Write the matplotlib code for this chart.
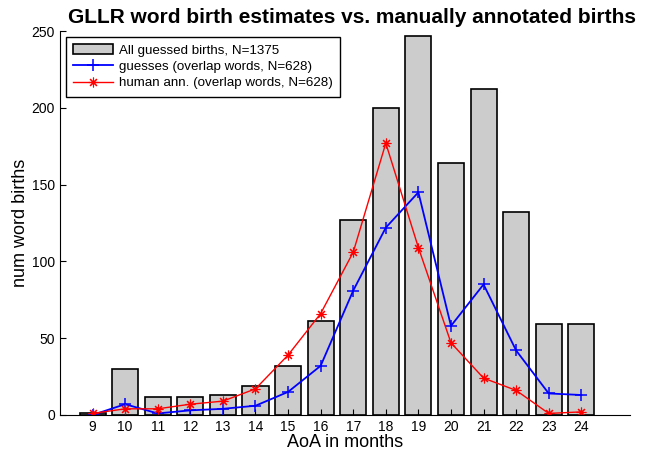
import numpy as np
import matplotlib
matplotlib.use('Agg')
import matplotlib.pyplot as plt

plt.rcParams['font.family'] = ['Liberation Sans', 'DejaVu Sans']

# AoA in months
months = np.arange(9, 25)
# all guessed births (N=1375)
all_births = [1, 30, 12, 12, 13, 19, 32, 61, 127, 200, 247, 164, 212, 132, 59, 59]
# guesses, overlap words (N=628)
guesses = [0, 7, 1, 3, 4, 6, 15, 32, 81, 122, 145, 58, 85, 42, 14, 13]
# human annotation, overlap words (N=628)
human = [1, 4, 4, 7, 9, 17, 39, 66, 106, 177, 109, 47, 24, 16, 1, 2]

fig = plt.figure(figsize=(6.45, 4.57), dpi=100)
ax = fig.add_axes([0.093, 0.092, 0.884, 0.84])

ax.bar(months, all_births, width=0.8, color='#cccccc', edgecolor='black',
       lw=1.2, label='All guessed births, N=1375')
ax.plot(months, guesses, '-', marker='+', color='blue', lw=1.3, ms=8,
        mew=1.1, label='guesses (overlap words, N=628)')
ax.plot(months, human, '-', marker=(8, 2, 0), color='red', lw=1.0, ms=7,
        mew=0.8, label='human ann. (overlap words, N=628)')

ax.set_xlim(8, 25.5)
ax.set_ylim(0, 250)
ax.set_xticks(months)
ax.set_yticks(np.arange(0, 251, 50))
ax.tick_params(direction='in', length=4, labelsize=10)
ax.spines['top'].set_visible(False)
ax.spines['right'].set_visible(False)

ax.set_xlabel('AoA in months', fontsize=13, labelpad=0)
ax.set_ylabel('num word births', fontsize=13, labelpad=2)
ax.set_title('GLLR word birth estimates vs. manually annotated births',
             fontsize=15, fontweight='bold', pad=6, x=0.512)

handles, labels = ax.get_legend_handles_labels()
order = [2, 0, 1]
leg = ax.legend([handles[i] for i in order], [labels[i] for i in order],
                loc='upper left', fontsize=9.6, fancybox=False,
                edgecolor='black', framealpha=1, borderaxespad=0.45,
                borderpad=0.55, handlelength=3.0, handletextpad=0.4,
                labelspacing=0.3)
leg.get_frame().set_linewidth(1.0)

plt.savefig('out.png', dpi=100)
